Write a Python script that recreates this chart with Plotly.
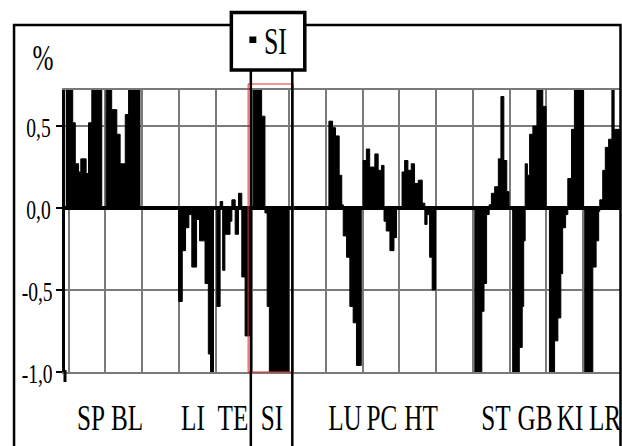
import plotly.graph_objects as go

# ---- data: step profile (segment start, value) per meridian group ----
sp_bl_x = [-0.8, 1.1, 1.8, 2.7, 3.3, 4.75, 5.4, 6.3, 9.0, 10.2, 11.7, 13.1, 14.0, 15.4, 16.3, 19.4]
sp_bl_y = [0.72, 0.52, 0.27, 0.22, 0.30, 0.21, 0.52, 0.72, 0.0, 0.72, 0.60, 0.45, 0.27, 0.57, 0.72, 0.0]

li_te_x = [29.9, 30.9, 31.8, 32.7, 33.5, 34.8, 35.6, 37.1, 38.0, 38.6, 39.4, 40.3, 41.2, 41.9, 42.5,
           43.9, 44.4, 45.3, 46.2, 47.1, 48.0, 49.2]
li_te_y = [-0.57, -0.26, -0.12, -0.04, -0.36, -0.07, -0.20, -0.46, -0.89, -1.0, 0.0, -0.60, 0.04, -0.38,
           -0.16, -0.08, 0.05, -0.16, 0.09, -0.42, -0.78, 0.0]

si_x = [50.2, 52.5, 53.4, 54.0, 54.6, 59.9]
si_y = [0.72, 0.56, -0.03, -0.60, -1.0, 0.0]

lu_pc_ht_x = [70.8, 71.8, 72.6, 73.6, 74.3, 74.7, 75.6, 76.5, 77.4, 78.3, 79.6,
              80.1, 81.0, 81.9, 83.3, 84.2, 85.1, 85.8, 86.4, 87.4, 88.5, 89.2,
              90.7, 91.4, 92.3, 93.2, 94.1, 95.1, 96.2, 96.9, 97.5, 98.2, 98.9, 99.8]
lu_pc_ht_y = [0.53, 0.49, 0.44, 0.20, 0.02, -0.17, -0.30, -0.60, -0.70, -0.96, 0.0,
              0.29, 0.36, 0.25, 0.33, 0.23, 0.26, -0.08, -0.14, -0.26, -0.18, 0.0,
              0.22, 0.29, 0.23, 0.27, 0.15, 0.17, 0.03, -0.10, -0.04, -0.30, -0.50, 0.0]

st_gb_x = [110.5, 112.4, 113.0, 113.7, 114.4, 115.0, 115.9, 116.9, 117.6, 118.4, 119.2, 119.8,
           120.8, 122.6, 123.4, 123.8, 124.2, 124.8, 125.4, 126.3, 127.4, 129.0, 129.9]
st_gb_y = [-1.0, -0.63, -0.46, -0.04, 0.02, 0.09, 0.13, 0.30, 0.68, 0.29, 0.10, 0.0,
           -1.0, -0.85, -0.60, -0.20, 0.27, 0.20, 0.45, 0.50, 0.72, 0.62, 0.0]

ki_lr_x = [130.8, 132.2, 133.1, 133.9, 134.4, 135.2, 135.8, 136.8, 137.6, 140.1,
           140.4, 142.6, 143.5, 144.2, 144.5, 145.3, 146.0, 146.9, 147.8, 148.4, 150.0]
ki_lr_y = [-1.0, -0.81, -0.67, -0.40, -0.12, -0.04, 0.18, 0.48, 0.72, 0.0,
           -1.0, -0.36, -0.20, -0.02, 0.05, 0.23, 0.37, 0.42, 0.72, 0.48, 0.48]

meridian_labels = ["SP", "BL", "LI", "TE", "SI", "LU", "PC", "HT", "ST", "GB", "KI", "LR"]
label_pos = [6.0, 16.0, 33.7, 44.7, 55.4, 75.1, 85.3, 95.8, 116.3, 126.8, 136.5, 146.0]

y_tickvals = [-1.0, -0.5, 0.0, 0.5]
y_ticktext = ["-1,0", "-0,5", "0,0", "0,5"]
legend_name = "SI"

x_all = sp_bl_x + li_te_x + si_x + lu_pc_ht_x + st_gb_x + ki_lr_x
y_all = sp_bl_y + li_te_y + si_y + lu_pc_ht_y + st_gb_y + ki_lr_y

SERIF = '"Liberation Serif", "Times New Roman", Times, serif'

fig = go.Figure()
fig.add_trace(go.Scatter(
    x=x_all, y=y_all, mode="lines",
    line=dict(shape="hv", color="black", width=1),
    fill="tozeroy", fillcolor="black",
    hoverinfo="skip", showlegend=False,
))

# plot area in pixels: x 65..620.5, y 90..372
L, R, T, B = 65, 620.5, 90, 372
W, H = R - L, B - T
def px(x):
    return (x - L) / W
def py(y):
    return (B - y) / H

shapes = [
    # outer frame
    dict(type="rect", xref="paper", yref="paper", x0=px(14), x1=px(621), y0=py(460), y1=py(25),
         line=dict(color="black", width=2.5), layer="above"),
    # y axis line extension below the bottom
    dict(type="line", xref="paper", yref="paper", x0=px(65), x1=px(65), y0=py(382), y1=py(370),
         line=dict(color="black", width=3), layer="above"),
    # red highlight rectangle
    dict(type="rect", xref="paper", yref="paper", x0=px(248.3), x1=px(293.3), y0=py(372), y1=py(84),
         line=dict(color="#e03030", width=1), layer="above"),
    # black leader lines
    dict(type="line", xref="paper", yref="paper", x0=px(251), x1=px(251), y0=py(70), y1=py(460),
         line=dict(color="black", width=2.5), layer="above"),
    dict(type="line", xref="paper", yref="paper", x0=px(292.5), x1=px(292.5), y0=py(70), y1=py(460),
         line=dict(color="black", width=2.5), layer="above"),
    # legend box
    dict(type="rect", xref="paper", yref="paper", x0=px(231.5), x1=px(305), y0=py(70), y1=py(12.5),
         line=dict(color="black", width=3.5), fillcolor="white", layer="above"),
    # legend marker
    dict(type="rect", xref="paper", yref="paper", x0=px(249.5), x1=px(256.5), y0=py(43), y1=py(36.5),
         line=dict(width=0), fillcolor="black", layer="above"),
]

annotations = [
    dict(text="%", xref="paper", yref="paper", x=px(42.5), y=py(58), showarrow=False,
         xanchor="center", yanchor="middle", font=dict(family=SERIF, size=36, color="black")),
    dict(text=legend_name, xref="paper", yref="paper", x=px(275.5), y=py(41), showarrow=False,
         xanchor="center", yanchor="middle", font=dict(family=SERIF, size=37, color="black")),
]
# y tick labels (comma decimals), placed on the y scale
for val, txt in zip(y_tickvals, y_ticktext):
    annotations.append(dict(text=txt, xref="paper", yref="y", x=px(38 if val >= 0 else 36.5), y=val,
                            showarrow=False, xanchor="center", yanchor="middle", yshift=-1,
                            font=dict(family=SERIF, size=28, color="black")))
for lab, pos in zip(meridian_labels, label_pos):
    annotations.append(dict(text=lab, x=pos, xref="x", yref="paper", y=py(418), showarrow=False,
                            xanchor="center", yanchor="middle",
                            font=dict(family=SERIF, size=36, color="black")))

fig.update_layout(
    width=622, height=446,
    margin=dict(l=L, r=622 - R, t=T, b=446 - B, pad=0),
    paper_bgcolor="white", plot_bgcolor="white",
    showlegend=False,
    shapes=shapes, annotations=annotations,
    xaxis=dict(range=[-1, 150], tick0=0, dtick=10, showticklabels=False, ticks="",
               showgrid=True, gridcolor="#7a7a7a", gridwidth=1.5, zeroline=False,
               showline=True, linecolor="#7a7a7a", linewidth=1.5, mirror=True, fixedrange=True),
    yaxis=dict(range=[-1.0, 0.72], tickvals=y_tickvals, showticklabels=False,
               ticks="outside", ticklen=6, tickwidth=2, tickcolor="black",
               showgrid=True, gridcolor="#7a7a7a", gridwidth=1.5,
               zeroline=True, zerolinecolor="black", zerolinewidth=3.5,
               showline=True, linecolor="black", linewidth=3, fixedrange=True),
)

post = (
    "document.body.style.margin='0';"
    "var s=document.createElement('style');"
    "s.textContent='.annotation-text{transform-box:fill-box;transform-origin:center;transform:scaleX(0.7);}';"
    "document.head.appendChild(s);"
)
fig.write_html("out.html", config={"displayModeBar": False}, post_script=post)
